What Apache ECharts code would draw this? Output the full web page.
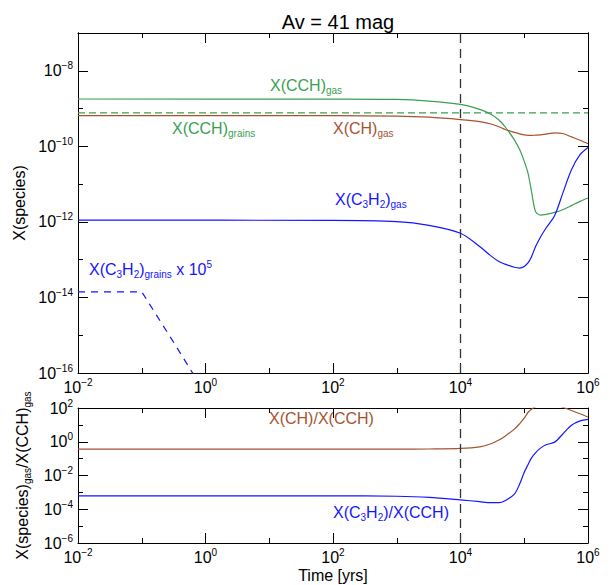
<!DOCTYPE html>
<html lang="en">
<head>
    <meta charset="UTF-8">
    <title>Av = 41 mag</title>
    <script src="https://cdn.jsdelivr.net/npm/echarts@6/dist/echarts.min.js"></script>
    <style>html, body { margin: 0; padding: 0; background: #fff; }</style>
</head>
<body>
    <div id="chart" style="width: 610px; height: 585px;"></div>
    <script>
        // time grid [yrs] shared by the gas curves
        const timeYrs = [0.01, 100, 1000, 3200, 1e4, 2e4, 3e4, 4e4, 5e4, 7e4, 8.5e4, 1e5, 1.15e5, 1.3e5, 1.5e5, 1.8e5, 2.2e5, 3e5, 4e5, 5.5e5, 7.5e5, 1e6];

        // top panel: abundances
        const cchGas = [1.79e-9, 1.78e-9, 1.74e-9, 1.58e-9, 1.29e-9, 9.5e-10, 7.1e-10, 5.0e-10, 3.3e-10, 1.48e-10, 8.1e-11, 4.0e-11, 1.9e-11, 6.3e-12, 1.9e-12, 1.51e-12, 1.58e-12, 1.78e-12, 2.1e-12, 2.7e-12, 3.5e-12, 4.3e-12];
        const chGas = [6.5e-10, 6.46e-10, 6.3e-10, 5.9e-10, 5.1e-10, 4.5e-10, 3.9e-10, 3.3e-10, 2.8e-10, 2.34e-10, 2.14e-10, 2.0e-10, 1.95e-10, 1.95e-10, 1.97e-10, 2.0e-10, 2.1e-10, 2.26e-10, 2.19e-10, 1.78e-10, 1.45e-10, 1.17e-10];
        const c3h2Gas = [1.11e-12, 1.10e-12, 1.02e-12, 8.1e-13, 5.0e-13, 2.24e-13, 1.26e-13, 8.9e-14, 7.6e-14, 6.3e-14, 6.0e-14, 6.6e-14, 8.3e-14, 1.2e-13, 2.19e-13, 4.0e-13, 6.9e-13, 1.48e-12, 5.6e-12, 2.4e-11, 6.0e-11, 9.3e-11];

        const cchGrainsTime = [0.01, 1e6];
        const cchGrains = [7.7e-10, 7.7e-10];
        const c3h2GrainsTime = [0.01, 0.1, 0.32, 1];
        const c3h2Grains = [1.41e-14, 1.41e-14, 6.3e-16, 2.8e-17]; // x 1e5

        // bottom panel: ratios to CCH
        const chRatio = [0.363, 0.363, 0.363, 0.372, 0.40, 0.50, 0.76, 1.26, 2.14, 5.6, 12.0, 25.1, 56, 85, 120, 158, 178, 158, 112, 71, 46, 29.5];
        const c3h2Ratio = [6.2e-4, 6.2e-4, 5.9e-4, 5.1e-4, 3.6e-4, 2.8e-4, 2.45e-4, 2.45e-4, 3.2e-4, 7.9e-4, 3.2e-3, 0.0158, 0.045, 0.11, 0.22, 0.42, 0.66, 0.95, 2.8, 9.5, 17.4, 21.4];

        const markTime = 1e4;

        const GREEN = '#3a9f52';
        const BROWN = '#a5532f';
        const BLUE = '#1515ff';
        const FONT = '"Liberation Sans", Arial, Helvetica, sans-serif';

        function toLog(t, v) {
            return t.map((x, i) => [Math.log10(x), Math.log10(v[i])]);
        }

        const labelRich = {
            b: {fontSize: 16, lineHeight: 20, fontFamily: FONT, color: '#000'},
            e: {fontSize: 10, lineHeight: 10, padding: [0, 0, 10, 0], fontFamily: FONT, color: '#000'}
        };
        function powLabel(v) {
            const n = Math.round(v);
            return '{b|10}{e|' + (n < 0 ? '\u2212' : '') + Math.abs(n) + '}';
        }

        const axisLine = {show: true, onZero: false, lineStyle: {color: '#000', width: 1}};
        const tickMajor = {show: true, inside: true, length: 10, lineStyle: {color: '#000'}};
        const tickMinor = {show: true, inside: true, length: 5, lineStyle: {color: '#000'}};
        const minor = {show: true, splitNumber: 2, length: 5, lineStyle: {color: '#000'}};

        function xAxis(grid, pos, withLabels, name) {
            return {
                type: 'value', gridIndex: grid, position: pos, min: -2, max: 6, interval: 2,
                axisLine: axisLine, axisTick: tickMajor, minorTick: minor,
                splitLine: {show: false},
                axisLabel: {show: withLabels, formatter: powLabel, rich: labelRich, margin: 4},
                name: name || '', nameLocation: 'middle', nameGap: 24,
                nameTextStyle: {fontSize: 16, color: '#000', fontFamily: FONT}
            };
        }
        function yPlain(grid, pos, min, max, interval, tick, withMinor) {
            return {
                type: 'value', gridIndex: grid, position: pos, min: min, max: max, interval: interval,
                axisLine: axisLine, axisTick: tick, minorTick: withMinor ? minor : {show: false},
                splitLine: {show: false}, axisLabel: {show: false}
            };
        }

        const subRich = (c) => ({
            m: {fontSize: 16, lineHeight: 20, fontFamily: FONT, fill: c},
            s: {fontSize: 10, lineHeight: 10, padding: [10, 0, 0, 0], fontFamily: FONT, fill: c},
            e: {fontSize: 10, lineHeight: 10, padding: [0, 0, 10, 0], fontFamily: FONT, fill: c}
        });
        function tag(x, y, text, c) {
            return {
                type: 'text', x: x, y: y, silent: true,
                style: {text: text, rich: subRich(c), fill: c, align: 'left', verticalAlign: 'middle', fontSize: 16, fontFamily: FONT}
            };
        }

        const chart = echarts.init(document.getElementById('chart'), null, {renderer: 'svg'});

        const lineBase = {type: 'line', symbol: 'none', smooth: 0.3, clip: true, silent: true};
        const vline = {
            symbol: 'none', silent: true, label: {show: false},
            lineStyle: {type: [9, 6], color: '#333', width: 1.3},
            data: [{xAxis: Math.log10(markTime)}]
        };

        const topY = Object.assign(yPlain(0, 'left', -16, -7, 2, tickMajor, false), {
            axisLabel: {formatter: v => (v < -7.5 ? powLabel(v) : ''), rich: labelRich, margin: 5},
            name: 'X(species)', nameLocation: 'middle', nameGap: 43,
            nameTextStyle: {fontSize: 16, color: '#000', fontFamily: FONT}
        });
        const botY = Object.assign(yPlain(1, 'left', -6, 2, 2, tickMajor, true), {
            axisLabel: {formatter: powLabel, rich: labelRich, margin: 5},
            name: '{m|X(species)}{s|gas}{m|/X(CCH)}{s|gas}', nameLocation: 'middle', nameGap: 40,
            nameTextStyle: {
                fontSize: 16, color: '#000', fontFamily: FONT,
                rich: {
                    m: {fontSize: 16, lineHeight: 20, fontFamily: FONT, color: '#000'},
                    s: {fontSize: 10, lineHeight: 10, padding: [10, 0, 0, 0], fontFamily: FONT, color: '#000'}
                }
            }
        });

        chart.setOption({
            animation: false,
            textStyle: {fontFamily: FONT},
            title: {
                text: 'Av = 41 mag', left: 333, top: 7, textAlign: 'center',
                textStyle: {fontSize: 20, fontWeight: 'normal', color: '#000', fontFamily: FONT}
            },
            grid: [
                {left: 78, top: 33, width: 510, height: 340},
                {left: 78, top: 408, width: 510, height: 135}
            ],
            xAxis: [
                xAxis(0, 'bottom', true),
                xAxis(0, 'top', false),
                xAxis(1, 'bottom', true, 'Time [yrs]'),
                xAxis(1, 'top', false)
            ],
            yAxis: [
                topY,
                yPlain(0, 'left', -16, -7, 1, tickMinor, false),
                yPlain(0, 'right', -16, -7, 2, tickMajor, false),
                yPlain(0, 'right', -16, -7, 1, tickMinor, false),
                botY,
                yPlain(1, 'right', -6, 2, 2, tickMajor, true)
            ],
            series: [
                Object.assign({}, lineBase, {
                    name: 'X(CCH)gas', xAxisIndex: 0, yAxisIndex: 0, data: toLog(timeYrs, cchGas),
                    lineStyle: {color: GREEN, width: 1.2}, markLine: vline
                }),
                Object.assign({}, lineBase, {
                    name: 'X(CCH)grains', xAxisIndex: 0, yAxisIndex: 0, smooth: false, data: toLog(cchGrainsTime, cchGrains),
                    lineStyle: {color: GREEN, width: 1.2, type: [7, 4]}
                }),
                Object.assign({}, lineBase, {
                    name: 'X(CH)gas', xAxisIndex: 0, yAxisIndex: 0, data: toLog(timeYrs, chGas),
                    lineStyle: {color: BROWN, width: 1.2}
                }),
                Object.assign({}, lineBase, {
                    name: 'X(C3H2)gas', xAxisIndex: 0, yAxisIndex: 0, data: toLog(timeYrs, c3h2Gas),
                    lineStyle: {color: BLUE, width: 1.2}
                }),
                Object.assign({}, lineBase, {
                    name: 'X(C3H2)grains', xAxisIndex: 0, yAxisIndex: 0, smooth: false, data: toLog(c3h2GrainsTime, c3h2Grains),
                    lineStyle: {color: BLUE, width: 1.2, type: [7, 6]}
                }),
                Object.assign({}, lineBase, {
                    name: 'X(CH)/X(CCH)', xAxisIndex: 2, yAxisIndex: 4, data: toLog(timeYrs, chRatio),
                    lineStyle: {color: BROWN, width: 1.2}, markLine: vline
                }),
                Object.assign({}, lineBase, {
                    name: 'X(C3H2)/X(CCH)', xAxisIndex: 2, yAxisIndex: 4, data: toLog(timeYrs, c3h2Ratio),
                    lineStyle: {color: BLUE, width: 1.2}
                })
            ],
            graphic: [
                tag(270, 85, '{m|X(CCH)}{s|gas}', GREEN),
                tag(172, 128, '{m|X(CCH)}{s|grains}', GREEN),
                tag(333, 128, '{m|X(CH)}{s|gas}', BROWN),
                tag(335, 199, '{m|X(C}{s|3}{m|H}{s|2}{m|)}{s|gas}', BLUE),
                tag(89, 269, '{m|X(C}{s|3}{m|H}{s|2}{m|)}{s|grains}{m| x 10}{e|5}', BLUE),
                tag(269, 418, '{m|X(CH)/X(CCH)}', BROWN),
                tag(333, 512, '{m|X(C}{s|3}{m|H}{s|2}{m|)/X(CCH)}', BLUE)
            ]
        });
    </script>
</body>
</html>
